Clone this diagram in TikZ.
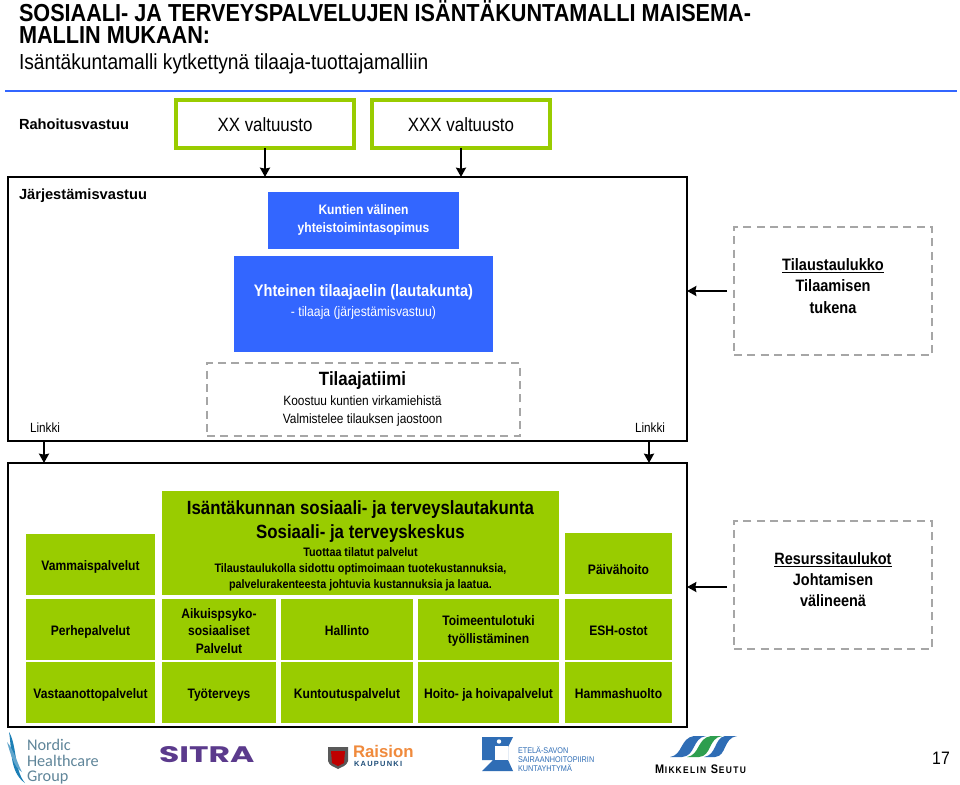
\documentclass[tikz,border=0pt]{standalone}
\usepackage{fontspec}
\setmainfont{Liberation Sans}[FakeStretch=0.88]
\newfontfamily\plainf{Liberation Sans}
\newfontfamily\logof{Carlito}
\newfontfamily\logob{Poppins}
\usetikzlibrary{arrows.meta}
\definecolor{hcblue}{HTML}{3366FF}
\definecolor{hcgreen}{HTML}{99CC00}
\definecolor{dashgray}{HTML}{A6A6A6}
\definecolor{nhcblue}{HTML}{5F8599}
\definecolor{nhcswoosh}{HTML}{1C7FB6}
\definecolor{sitrap}{HTML}{5B3A8C}
\definecolor{raisorange}{HTML}{F08A3C}
\definecolor{raisnavy}{HTML}{1F4E79}
\definecolor{esblue}{HTML}{2F6DB5}
\definecolor{msgreen}{HTML}{2E9E4F}
\newcommand{\fsz}[1]{\fontsize{#1}{#1}\selectfont}
\newcommand{\txtfont}{\fsz{10}\setlength{\lineskiplimit}{-50pt}}
% name, style, x0, y0, x1, y1, text dx, text dy, text
\newcommand{\boxat}[9]{%
  \node[#2, minimum width={(#5-#3)*0.75pt}, minimum height={(#6-#4)*0.75pt}, inner sep=0pt, outer sep=0pt] (#1) at ({(#3+#5)/2},{(#4+#6)/2}) {};
  \node[txt, #2, draw=none, fill=none, inner sep=0pt, outer sep=0pt, align=center] (#1t) at ({(#3+#5)/2+#7},{(#4+#6)/2+#8}) {#9};}
\tikzset{
  x=0.75pt, y=-0.75pt,
  txt/.style={font=\txtfont},
  greenrule/.style={draw=hcgreen, line width=3pt, fill=white},
  bluebox/.style={fill=hcblue, text=white},
  greenbox/.style={fill=hcgreen, text=black},
  frame/.style={draw=black, line width=1.5pt},
  dashbox/.style={draw=dashgray, line width=1.3pt, dash pattern=on 6pt off 4pt, fill=white},
  arrowline/.style={draw=black, line width=1.5pt, -{Stealth[length=7pt,width=7.5pt,inset=0.8pt]}},
  plainlabel/.style={inner sep=0pt, outer sep=0pt, anchor=base west},
  service/.style={font=\bfseries\fsz{10.3}},
}
\begin{document}
\begin{tikzpicture}
\useasboundingbox (0,0) rectangle (960,785);
\fill[white] (0,0) rectangle (960,785);
% title
\node[plainlabel, font=\bfseries\fsz{18.45}] (t1) at (19,21.5) {SOSIAALI- JA TERVEYSPALVELUJEN ISÄNTÄKUNTAMALLI MAISEMA-};
\node[plainlabel, font=\bfseries\fsz{18.45}] (t2) at (19,43) {MALLIN MUKAAN:};
\node[plainlabel, font=\fsz{16.35}] (t3) at (19,69.5) {Isäntäkuntamalli kytkettynä tilaaja-tuottajamalliin};
\coordinate (ruleL) at (5,91); \coordinate (ruleR) at (957,91);
\draw[hcblue, line width=2.2pt] (ruleL) -- (ruleR);
% financing
\node[plainlabel, font=\plainf\bfseries\fsz{11}] (rah) at (19,129) {Rahoitusvastuu};
\boxat{xx}{greenrule}{176}{100}{354}{148}{0}{1}{\fsz{14.4}XX valtuusto}
\boxat{xxx}{greenrule}{372}{100}{550}{148}{0}{1}{\fsz{14.4}XXX valtuusto}
% frames
\boxat{jarj}{frame}{8}{177}{687}{441}{0}{0}{}
\boxat{tuot}{frame}{8}{463}{687}{727}{0}{0}{}
\node[plainlabel, font=\plainf\bfseries\fsz{11}] (jv) at (19,199.5) {Järjestämisvastuu};
% blue
\boxat{kv}{bluebox}{268}{192}{459}{249}{0}{-0.5}{\bfseries\fsz{10.3}Kuntien välinen\\[3.5pt]\bfseries\fsz{10.3}yhteistoimintasopimus}
\boxat{yt}{bluebox}{234}{256}{493}{352}{0}{-2}{\bfseries\fsz{12.45}Yhteinen tilaajaelin (lautakunta)\\[5pt]\fsz{10.4}- tilaaja (järjestämisvastuu)}
% dashed
\boxat{tt}{dashbox}{207}{363}{520}{436}{-1}{-0.7}{\bfseries\fsz{14.4}Tilaajatiimi\\[5.25pt]\fsz{10.15}Koostuu kuntien virkamiehistä\\[3pt]\fsz{10.15}Valmistelee tilauksen jaostoon}
\boxat{tilt}{dashbox}{734}{227}{932}{355}{0}{-5}{\bfseries\fsz{12.4}\underline{Tilaustaulukko}\\[6pt]\bfseries\fsz{12.4}Tilaamisen\\[6pt]\bfseries\fsz{12.4}tukena}
\boxat{res}{dashbox}{734}{521}{932}{649}{0}{-5.5}{\bfseries\fsz{12.3}\underline{Resurssitaulukot}\\[5.75pt]\bfseries\fsz{12.3}Johtamisen\\[5.75pt]\bfseries\fsz{12.3}välineenä}
% link labels
\node[font=\fsz{10}, inner sep=0pt] (l1) at (45,428) {Linkki};
\node[font=\fsz{10}, inner sep=0pt] (l2) at (650,428) {Linkki};
% connectors
\draw[arrowline] (xx.south) -- (xx.south |- jarj.north);
\draw[arrowline] (xxx.south) -- (xxx.south |- jarj.north);
\coordinate (a1) at (44,441); \coordinate (a2) at (649,441);
\draw[arrowline] (a1) -- (a1 |- tuot.north);
\draw[arrowline] (a2) -- (a2 |- tuot.north);
\coordinate (a3) at (727,291); \coordinate (a4) at (727,587);
\draw[arrowline] (a3) -- (a3 -| jarj.east);
\draw[arrowline] (a4) -- (a4 -| tuot.east);
% green
\boxat{isa}{greenbox}{162}{491}{559}{595}{0}{2.5}{\bfseries\fsz{14.35}Isäntäkunnan sosiaali- ja terveyslautakunta\\[8pt]\bfseries\fsz{14.35}Sosiaali- ja terveyskeskus\\[3.5pt]\bfseries\fsz{9.2}Tuottaa tilatut palvelut\\[2pt]\bfseries\fsz{9.2}Tilaustaulukolla sidottu optimoimaan tuotekustannuksia,\\[2pt]\bfseries\fsz{9.2}palvelurakenteesta johtuvia kustannuksia ja laatua.}
\boxat{vam}{greenbox,service}{26}{534}{155}{595}{0}{2}{Vammaispalvelut}
\boxat{per}{greenbox,service}{26}{599}{155}{660}{0}{2}{Perhepalvelut}
\boxat{vas}{greenbox,service}{26}{662}{155}{723}{0}{2}{Vastaanottopalvelut}
\boxat{aik}{greenbox,service}{162}{599}{276}{660}{0}{1.5}{Aikuispsyko-\\[2.8pt]sosiaaliset\\[2.8pt]Palvelut}
\boxat{hal}{greenbox,service}{281}{599}{413}{660}{0}{1}{Hallinto}
\boxat{toi}{greenbox,service}{418}{599}{559}{660}{0}{1}{Toimeentulotuki\\[3.2pt]työllistäminen}
\boxat{tyo}{greenbox,service}{162}{662}{276}{723}{0}{2.5}{Työterveys}
\boxat{kun}{greenbox,service}{281}{662}{413}{723}{0}{2}{Kuntoutuspalvelut}
\boxat{hoi}{greenbox,service}{418}{662}{559}{723}{0}{2}{Hoito- ja hoivapalvelut}
\boxat{pai}{greenbox,service}{565}{533}{672}{594}{0}{6}{Päivähoito}
\boxat{esh}{greenbox,service}{565}{599}{672}{660}{0}{1}{ESH-ostot}
\boxat{ham}{greenbox,service}{565}{662}{672}{723}{0}{1}{Hammashuolto}
% Nordic Healthcare logo
\fill[nhcswoosh] (9,732) .. controls (17,745) and (14,770) .. (25,783) .. controls (9,772) and (12,748) .. (9,732) -- cycle;
\fill[nhcswoosh!70] (7,742) .. controls (14,750) and (18,765) .. (22,772) .. controls (14,768) and (10,752) .. (7,742) -- cycle;
\node[plainlabel, font=\logof\fsz{12.2}, text=nhcblue] (n1) at (27,750) {Nordic};
\node[plainlabel, font=\logof\fsz{12.2}, text=nhcblue] (n2) at (27,766) {Healthcare};
\node[plainlabel, font=\logof\fsz{12.2}, text=nhcblue] (n3) at (27,781) {Group};
% SITRA logo
\node[plainlabel, text=sitrap] (sitra) at (159,762) {\resizebox{71.5pt}{12pt}{\logob\bfseries SITRA}};
% Raisio logo
\fill[gray!70!black] (328,747) -- (348,747) -- (348,761) .. controls (347,766) and (341,767) .. (338,769) .. controls (335,767) and (329,766) .. (328,761) -- cycle;
\fill[red!75!black] (331,751) -- (345,751) -- (344,763) -- (338,766) -- (332,763) -- cycle;
\node[plainlabel, font=\plainf\bfseries\fsz{12.6}, text=raisorange] (rai) at (353,757) {Raision};
\node[plainlabel, font=\plainf\bfseries\fsz{5.6}, text=raisnavy] (kau) at (354,766) {K\,A\,U\,P\,U\,N\,K\,I};
% Etela-Savo logo
\fill[esblue] (482,737) -- (513,737) -- (508,747) -- (508,760) -- (513,771) -- (482,771) -- (493,760) -- (482,760) -- cycle;
\fill[white] (495,746) rectangle (508,760);
\fill[white] (499,741.5) circle (2.2);
\node[plainlabel, font=\fsz{6.2}, text=esblue] (e1) at (518,753) {ETELÄ-SAVON};
\node[plainlabel, font=\fsz{6.2}, text=esblue] (e2) at (518,762) {SAIRAANHOITOPIIRIN};
\node[plainlabel, font=\fsz{6.2}, text=esblue] (e3) at (518,771) {KUNTAYHTYMÄ};
% Mikkelin Seutu logo
\fill[esblue] (670,757) .. controls (683,755) and (680,738) .. (694,736) -- (706,736) .. controls (692,738) and (696,756) .. (682,757) -- cycle;
\fill[msgreen] (687,757) .. controls (700,755) and (697,738) .. (711,736) -- (722,736) .. controls (708,738) and (712,756) .. (699,757) -- cycle;
\fill[esblue] (704,757) .. controls (717,755) and (714,738) .. (725,736) -- (737,736) .. controls (723,738) and (727,756) .. (715,757) -- cycle;
\node[plainlabel, font=\bfseries\fsz{9.3}] (m1) at (655,773) {M\kern0.6pt\fsz{7.2}I\kern1pt K\kern0.7pt K\kern1pt E\kern1pt L\kern1pt I\kern1pt N\kern3.4pt\fsz{9.3}S\kern0.6pt\fsz{7.2}E\kern1pt U\kern1pt T\kern1pt U};
% page number
\node[font=\fsz{13.5}, inner sep=0pt] (pg) at (941,758) {17};
\end{tikzpicture}
\end{document}
